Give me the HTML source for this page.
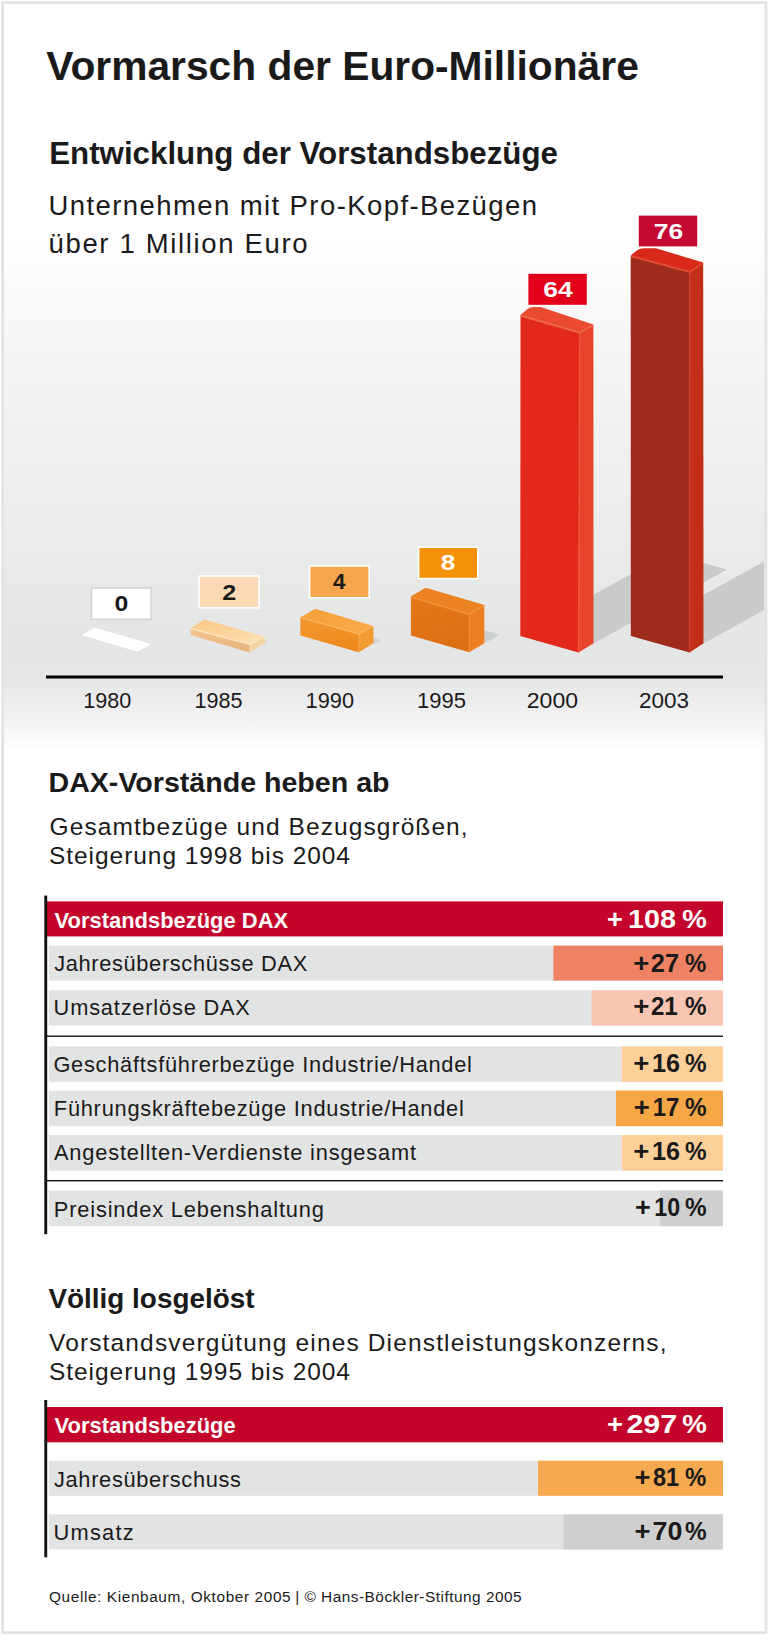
<!DOCTYPE html>
<html lang="de">
<head>
<meta charset="utf-8">
<title>Vormarsch der Euro-Millionäre</title>
<style>
html,body{margin:0;padding:0;background:#fff;}
body{width:768px;height:1635px;overflow:hidden;}
svg{display:block;}
text{font-family:"Liberation Sans",sans-serif;fill:#1a1a1a;}
.b{font-weight:bold;}
.w{fill:#fff;}
</style>
</head>
<body>
<svg width="768" height="1635" viewBox="0 0 768 1635">
<defs>
<linearGradient id="bg" x1="0" y1="0" x2="0" y2="1">
<stop offset="0.0000" stop-color="#ffffff"/>
<stop offset="0.1426" stop-color="#ffffff"/>
<stop offset="0.2009" stop-color="#f7f7f7"/>
<stop offset="0.2745" stop-color="#eff0f0"/>
<stop offset="0.3420" stop-color="#e9eaea"/>
<stop offset="0.3911" stop-color="#e4e5e5"/>
<stop offset="0.4144" stop-color="#e6e7e7"/>
<stop offset="0.4279" stop-color="#ececec"/>
<stop offset="0.4451" stop-color="#f6f6f6"/>
<stop offset="0.4598" stop-color="#ffffff"/>
<stop offset="1" stop-color="#ffffff"/>
</linearGradient>
<linearGradient id="g2t" x1="0" y1="0" x2="1" y2="1">
<stop offset="0" stop-color="#fac682"/><stop offset="0.5" stop-color="#fbd39c"/><stop offset="1" stop-color="#fde2b6"/>
</linearGradient>
<linearGradient id="g2f" x1="0" y1="0" x2="0" y2="1">
<stop offset="0" stop-color="#f4c690"/><stop offset="1" stop-color="#e6b27c"/>
</linearGradient>
<linearGradient id="g4t" x1="0" y1="0" x2="1" y2="1">
<stop offset="0" stop-color="#f69e36"/><stop offset="1" stop-color="#f9ad4e"/>
</linearGradient>
<linearGradient id="g4f" x1="0" y1="0" x2="0.3" y2="1">
<stop offset="0" stop-color="#f3992f"/><stop offset="1" stop-color="#ec8a1e"/>
</linearGradient>
<linearGradient id="g8f" x1="0" y1="0" x2="0.3" y2="1">
<stop offset="0" stop-color="#e47818"/><stop offset="1" stop-color="#dc6f12"/>
</linearGradient>
</defs>
<!-- frame -->
<rect x="0" y="0" width="768" height="1635" fill="#fff"/>
<rect x="2.7" y="2.5" width="763.3" height="1630.1" fill="url(#bg)" stroke="#e2e2e2" stroke-width="2.6"/>

<!-- headings -->
<text class="b" x="46.3" y="79.8" font-size="40" textLength="592.5" lengthAdjust="spacingAndGlyphs">Vormarsch der Euro-Millionäre</text>
<text class="b" x="49.2" y="164" font-size="31" textLength="508.8" lengthAdjust="spacingAndGlyphs">Entwicklung der Vorstandsbezüge</text>
<text x="48.5" y="215.2" font-size="27.5" textLength="488.5" lengthAdjust="spacing">Unternehmen mit Pro-Kopf-Bezügen</text>
<text x="48.5" y="253.4" font-size="27.5" textLength="259" lengthAdjust="spacing">über 1 Million Euro</text>

<!-- CHART -->
<g id="chart">
<!-- shadows of tall bars -->
<polygon points="535,627 593.5,643.5 727,569.6 668.5,553.6" fill="#c9cbcb"/>
<polygon points="645.5,627 703.5,643.5 764,610 764,561.5" fill="#c9cbcb"/>
<!-- small shadows -->
<polygon points="484,630 499.4,634.7 485.2,643 480,642" fill="#cdd0d1"/>
<polygon points="373,637.5 381,640.5 375,643.8 370,643" fill="#cfd0d0"/>
<polygon points="264,639.5 268.5,641.5 265,643.8 262,643" fill="#d6d7d7"/>

<!-- bar 1980 (flat) -->
<polygon points="80.2,635.3 94.7,627.1 152.3,643.8 137.7,652.3" fill="#ffffff" stroke="#e0e0e0" stroke-width="0.8"/>
<rect x="91.5" y="588" width="59.6" height="31.3" fill="#fff" stroke="#d2d2d2" stroke-width="1.5"/>
<text class="b" x="121.3" y="611.2" font-size="22.8" text-anchor="middle" textLength="13.8" lengthAdjust="spacingAndGlyphs">0</text>

<!-- bar 1985 -->
<polygon points="190.3,628.4 249.8,644.3 249.3,652.4 190.9,635" fill="url(#g2f)"/>
<polygon points="249.8,644.3 264.3,636.5 265.5,642.6 249.3,652.4" fill="#f7d5a3"/>
<polygon points="190.3,628.4 204.5,619.4 264.3,636.5 249.8,644.3" fill="url(#g2t)"/>
<polyline points="190.3,628.4 249.8,644.3 264.3,636.5" fill="none" stroke="#fde6c2" stroke-width="1.2"/>
<rect x="199" y="576" width="60" height="31.8" fill="#fbd9b5" stroke="#fff" stroke-width="1.6"/>
<text class="b" x="229.2" y="600.1" font-size="22.8" text-anchor="middle" textLength="14" lengthAdjust="spacingAndGlyphs">2</text>

<!-- bar 1990 -->
<polygon points="300.4,617.6 359.2,634.2 358.8,652.3 300.4,635.6" fill="url(#g4f)"/>
<polygon points="359.2,634.2 373.4,626 373.4,643.3 358.8,652.3" fill="#f39b33"/>
<polygon points="300.4,617.6 315.4,608.8 373.4,626 359.2,634.2" fill="url(#g4t)"/>
<polyline points="300.4,617.6 359.2,634.2 373.4,626" fill="none" stroke="#fab763" stroke-width="1"/>
<line x1="359.2" y1="634.2" x2="358.8" y2="652.3" stroke="#f6a84e" stroke-width="1"/>
<rect x="309.6" y="566" width="59.6" height="31.8" fill="#f5a54b" stroke="#fff" stroke-width="1.6"/>
<text class="b" x="339.3" y="589.2" font-size="22.4" text-anchor="middle" textLength="12.4" lengthAdjust="spacingAndGlyphs">4</text>

<!-- bar 1995 -->
<polygon points="410.9,596.5 469.3,613.9 469.3,652.2 410.9,635.4" fill="url(#g8f)"/>
<polygon points="469.3,613.9 484.3,604.9 484.3,643.2 469.3,652.2" fill="#ec7f22"/>
<polygon points="410.7,596.4 425.8,587.8 484.4,605 468.9,613.7" fill="#ed8223"/>
<polyline points="411.1,597.1 469.1,614.4 484.1,605.5" fill="none" stroke="#f39133" stroke-width="1.4"/>
<line x1="469.1" y1="613.9" x2="469.1" y2="652.2" stroke="#ef8a32" stroke-width="1"/>
<rect x="418.6" y="547.2" width="59.2" height="31.4" fill="#f39208" stroke="#fff" stroke-width="1.6"/>
<text class="b w" x="448" y="570.4" font-size="22.8" text-anchor="middle" textLength="14.6" lengthAdjust="spacingAndGlyphs">8</text>

<!-- bar 2000 -->
<polygon points="520.5,315 579.7,331.9 578.6,652.4 520.3,636" fill="#e3281c"/>
<polygon points="579.7,331.9 593.4,324.4 593.5,643.2 578.6,652.4" fill="#e8432b"/>
<line x1="579.7" y1="331.9" x2="578.6" y2="652.4" stroke="#ee5b3f" stroke-width="1.2"/>
<path d="M520.5,315 L527.5,309 Q530,307 534,307 L540.6,307 L593.4,324.4 L579.7,331.9 Z" fill="#ea4a2f"/>
<polyline points="520.8,315.8 579.5,332.6 593.2,325.2" fill="none" stroke="#ef6546" stroke-width="1.8"/>
<rect x="528.4" y="273.8" width="58.4" height="31" fill="#e2001a"/>
<text class="b w" x="558" y="297" font-size="22" text-anchor="middle" textLength="29.4" lengthAdjust="spacingAndGlyphs">64</text>

<!-- bar 2003 -->
<polygon points="630.7,255.6 689.8,271.3 689.6,652.4 630.8,636" fill="#9e2b1b"/>
<polygon points="689.8,271.3 703.2,262.5 703.5,643.2 689.6,652.4" fill="#c22e1a"/>
<line x1="689.8" y1="271.3" x2="689.6" y2="652.4" stroke="#d2432c" stroke-width="1.2"/>
<path d="M630.7,255.6 L637.5,250 Q640,248.3 644,248.3 L656,248.3 L703.2,262.5 L689.8,271.3 Z" fill="#d8291a"/>
<polyline points="631,256.4 689.6,272 703,263.3" fill="none" stroke="#e24a2f" stroke-width="1.8"/>
<rect x="638.8" y="215.6" width="58.4" height="30.8" fill="#c40a33"/>
<text class="b w" x="668.4" y="238.8" font-size="22" text-anchor="middle" textLength="29.4" lengthAdjust="spacingAndGlyphs">76</text>
</g>


<!-- axis -->
<rect x="46" y="675.5" width="677" height="3" fill="#000"/>
<g font-size="21.6" text-anchor="middle">
<text x="107.2" y="707.5" textLength="48" lengthAdjust="spacingAndGlyphs">1980</text>
<text x="218.4" y="707.5" textLength="48" lengthAdjust="spacingAndGlyphs">1985</text>
<text x="329.8" y="707.5" textLength="48.4" lengthAdjust="spacingAndGlyphs">1990</text>
<text x="441.6" y="707.5" textLength="49" lengthAdjust="spacingAndGlyphs">1995</text>
<text x="552.4" y="707.5" textLength="51.2" lengthAdjust="spacingAndGlyphs">2000</text>
<text x="664" y="707.5" textLength="50" lengthAdjust="spacingAndGlyphs">2003</text>
</g>

<!-- SECTION 2 -->
<g id="sec2">
<text class="b" x="48.5" y="792.1" font-size="27.4" textLength="341" lengthAdjust="spacingAndGlyphs">DAX-Vorstände heben ab</text>
<text x="49.6" y="834.5" font-size="24.5" textLength="418" lengthAdjust="spacing">Gesamtbezüge und Bezugsgrößen,</text>
<text x="49" y="863.6" font-size="24.5" textLength="301" lengthAdjust="spacing">Steigerung 1998 bis 2004</text>
<rect x="46" y="901.4" width="677" height="35.0" fill="#c4052b"/>
<rect x="48.8" y="945.6" width="674.2" height="35.0" fill="#e2e3e3"/>
<rect x="553.4" y="945.6" width="169.6" height="35.0" fill="#ef8263"/>
<rect x="48.8" y="990.3" width="674.2" height="35.2" fill="#e2e3e3"/>
<rect x="591.5" y="990.3" width="131.5" height="35.2" fill="#f8c6b2"/>
<rect x="46" y="1035.5" width="677" height="1.4" fill="#111"/>
<rect x="48.8" y="1046.4" width="674.2" height="35.4" fill="#e2e3e3"/>
<rect x="622.0" y="1046.4" width="101.0" height="35.4" fill="#fdd09a"/>
<rect x="48.8" y="1090.6" width="674.2" height="35.6" fill="#e2e3e3"/>
<rect x="616.0" y="1090.6" width="107.0" height="35.6" fill="#f7a646"/>
<rect x="48.8" y="1135.0" width="674.2" height="35.6" fill="#e2e3e3"/>
<rect x="622.0" y="1135.0" width="101.0" height="35.6" fill="#fdd09a"/>
<rect x="46" y="1180" width="677" height="1.4" fill="#111"/>
<rect x="48.8" y="1190.6" width="674.2" height="35.6" fill="#e2e3e3"/>
<rect x="660.0" y="1190.6" width="63.0" height="35.6" fill="#cfcfcf"/>
<rect x="44.3" y="895.6" width="2.9" height="338.6" fill="#111"/>
<g font-size="21.8">
<text class="b w" x="54.6" y="927.5" textLength="233.5" lengthAdjust="spacingAndGlyphs">Vorstandsbezüge DAX</text>
<text x="54.2" y="971.1" textLength="253" lengthAdjust="spacing">Jahresüberschüsse DAX</text>
<text x="53.6" y="1015" textLength="196.3" lengthAdjust="spacing">Umsatzerlöse DAX</text>
<text x="53.4" y="1071.7" textLength="418.5" lengthAdjust="spacing">Geschäftsführerbezüge Industrie/Handel</text>
<text x="53.8" y="1115.8" textLength="410" lengthAdjust="spacing">Führungskräftebezüge Industrie/Handel</text>
<text x="54" y="1160" textLength="362" lengthAdjust="spacing">Angestellten-Verdienste insgesamt</text>
<text x="53.8" y="1216.5" textLength="270" lengthAdjust="spacing">Preisindex Lebenshaltung</text>
</g>
<g font-size="25.4" class="b">
<text class="b w" y="927.6" x="607.0" textLength="15.9" lengthAdjust="spacingAndGlyphs">+</text><text class="b w" y="927.6" x="628.0" textLength="47.9" lengthAdjust="spacingAndGlyphs">108</text><text class="b w" y="927.6" x="682.3" textLength="24.6" lengthAdjust="spacingAndGlyphs">%</text>
<text class="b" y="971.6" x="633.3" textLength="16.1" lengthAdjust="spacingAndGlyphs">+</text><text class="b" y="971.6" x="650.8" textLength="28.3" lengthAdjust="spacingAndGlyphs">27</text><text class="b" y="971.6" x="685.0" textLength="21.3" lengthAdjust="spacingAndGlyphs">%</text>
<text class="b" y="1015.3" x="633.3" textLength="16.1" lengthAdjust="spacingAndGlyphs">+</text><text class="b" y="1015.3" x="650.9" textLength="26.9" lengthAdjust="spacingAndGlyphs">21</text><text class="b" y="1015.3" x="684.9" textLength="21.6" lengthAdjust="spacingAndGlyphs">%</text>
<text class="b" y="1071.8" x="633.3" textLength="16.1" lengthAdjust="spacingAndGlyphs">+</text><text class="b" y="1071.8" x="652.1" textLength="28.0" lengthAdjust="spacingAndGlyphs">16</text><text class="b" y="1071.8" x="684.9" textLength="21.6" lengthAdjust="spacingAndGlyphs">%</text>
<text class="b" y="1115.9" x="633.8" textLength="16.1" lengthAdjust="spacingAndGlyphs">+</text><text class="b" y="1115.9" x="652.7" textLength="26.7" lengthAdjust="spacingAndGlyphs">17</text><text class="b" y="1115.9" x="684.9" textLength="21.6" lengthAdjust="spacingAndGlyphs">%</text>
<text class="b" y="1160.1" x="633.3" textLength="16.1" lengthAdjust="spacingAndGlyphs">+</text><text class="b" y="1160.1" x="652.1" textLength="28.0" lengthAdjust="spacingAndGlyphs">16</text><text class="b" y="1160.1" x="684.9" textLength="21.6" lengthAdjust="spacingAndGlyphs">%</text>
<text class="b" y="1216.4" x="635.1" textLength="15.8" lengthAdjust="spacingAndGlyphs">+</text><text class="b" y="1216.4" x="654.3" textLength="25.8" lengthAdjust="spacingAndGlyphs">10</text><text class="b" y="1216.4" x="684.9" textLength="21.6" lengthAdjust="spacingAndGlyphs">%</text>
</g>
</g>


<!-- SECTION 3 -->
<g id="sec3">
<text class="b" x="48.5" y="1308.4" font-size="27.4" textLength="206" lengthAdjust="spacingAndGlyphs">Völlig losgelöst</text>
<text x="49" y="1350.8" font-size="24.5" textLength="617.5" lengthAdjust="spacing">Vorstandsvergütung eines Dienstleistungskonzerns,</text>
<text x="49" y="1379.5" font-size="24.5" textLength="301" lengthAdjust="spacing">Steigerung 1995 bis 2004</text>
<rect x="46" y="1407.0" width="677" height="35.3" fill="#c4052b"/>
<rect x="48.8" y="1460.7" width="674.2" height="35.1" fill="#e2e3e3"/>
<rect x="538.0" y="1460.7" width="185.0" height="35.1" fill="#f7a94f"/>
<rect x="48.8" y="1514.4" width="674.2" height="35.1" fill="#e2e3e3"/>
<rect x="563.5" y="1514.4" width="159.5" height="35.1" fill="#cfcfcf"/>
<rect x="44.3" y="1400" width="2.9" height="157.3" fill="#111"/>
<g font-size="21.8">
<text class="b w" x="54.6" y="1433" textLength="181" lengthAdjust="spacingAndGlyphs">Vorstandsbezüge</text>
<text x="54" y="1486.5" textLength="187" lengthAdjust="spacing">Jahresüberschuss</text>
<text x="53.6" y="1539.8" textLength="80" lengthAdjust="spacing">Umsatz</text>
</g>
<g font-size="25.4" class="b">
<text class="b w" y="1432.8" x="607.1" textLength="16.0" lengthAdjust="spacingAndGlyphs">+</text><text class="b w" y="1432.8" x="626.4" textLength="50.8" lengthAdjust="spacingAndGlyphs">297</text><text class="b w" y="1432.8" x="682.2" textLength="24.6" lengthAdjust="spacingAndGlyphs">%</text>
<text class="b" y="1486.4" x="634.6" textLength="16.0" lengthAdjust="spacingAndGlyphs">+</text><text class="b" y="1486.4" x="652.9" textLength="26.1" lengthAdjust="spacingAndGlyphs">81</text><text class="b" y="1486.4" x="684.9" textLength="21.3" lengthAdjust="spacingAndGlyphs">%</text>
<text class="b" y="1539.8" x="634.6" textLength="16.0" lengthAdjust="spacingAndGlyphs">+</text><text class="b" y="1539.8" x="652.6" textLength="29.8" lengthAdjust="spacingAndGlyphs">70</text><text class="b" y="1539.8" x="684.9" textLength="21.6" lengthAdjust="spacingAndGlyphs">%</text>
</g>
</g>


<text x="49" y="1602" font-size="15.4" textLength="241.6" lengthAdjust="spacing">Quelle: Kienbaum, Oktober 2005</text>
<text x="295.2" y="1602" font-size="15.4" textLength="226.4" lengthAdjust="spacing">| © Hans-Böckler-Stiftung 2005</text>
</svg>
</body>
</html>
